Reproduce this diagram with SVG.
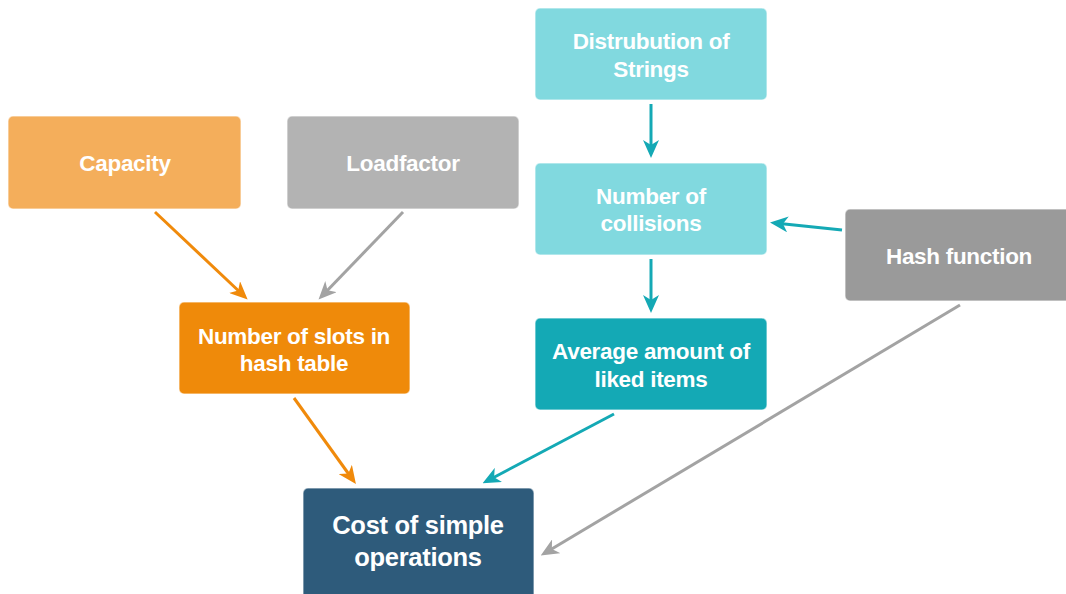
<svg xmlns="http://www.w3.org/2000/svg" width="1066" height="594" viewBox="0 0 1066 594">
  <style>
    .box { stroke: #ffffff; stroke-opacity: 0.5; stroke-width: 1.5; }
    .lbl { font-family: "Liberation Sans", Arial, sans-serif; font-weight: bold; font-size: 22.5px; fill: #ffffff; text-anchor: middle; dominant-baseline: central; letter-spacing: -0.3px; }
    .big { font-size: 25.5px; }
    .edge { fill: none; stroke-width: 3; }
    .orange { stroke: #F08A0B; }
    .gray { stroke: #A3A3A3; }
    .teal { stroke: #14A9B5; }
  </style>
  <defs>
    <marker id="arrOrange" viewBox="0 0 18 16" refX="13" refY="8" markerWidth="18" markerHeight="16" markerUnits="userSpaceOnUse" orient="auto">
      <path d="M0,0 L18,8 L0,16 L5,8 Z" fill="#F08A0B"/>
    </marker>
    <marker id="arrGray" viewBox="0 0 18 16" refX="13" refY="8" markerWidth="18" markerHeight="16" markerUnits="userSpaceOnUse" orient="auto">
      <path d="M0,0 L18,8 L0,16 L5,8 Z" fill="#A3A3A3"/>
    </marker>
    <marker id="arrTeal" viewBox="0 0 18 16" refX="13" refY="8" markerWidth="18" markerHeight="16" markerUnits="userSpaceOnUse" orient="auto">
      <path d="M0,0 L18,8 L0,16 L5,8 Z" fill="#14A9B5"/>
    </marker>
  </defs>

  <rect width="1066" height="594" fill="#ffffff"/>

  <!-- connectors -->
  <g id="connectors">
    <line class="edge orange" x1="155" y1="212" x2="244" y2="296" marker-end="url(#arrOrange)"/>
    <line class="edge gray" x1="403" y1="212" x2="322" y2="296" marker-end="url(#arrGray)"/>
    <line class="edge teal" x1="651" y1="104" x2="651" y2="153" marker-end="url(#arrTeal)"/>
    <line class="edge teal" x1="651" y1="259" x2="651" y2="308" marker-end="url(#arrTeal)"/>
    <line class="edge teal" x1="842" y1="230" x2="775" y2="223" marker-end="url(#arrTeal)"/>
    <line class="edge orange" x1="294" y1="398" x2="353" y2="480" marker-end="url(#arrOrange)"/>
    <line class="edge teal" x1="614" y1="414" x2="487" y2="481" marker-end="url(#arrTeal)"/>
    <line class="edge gray" x1="960" y1="305" x2="545" y2="553" marker-end="url(#arrGray)"/>
  </g>

  <!-- nodes -->
  <g id="capacity">
    <rect class="box" x="8" y="116" width="233" height="93" rx="5" fill="#F4AE5B"/>
    <text class="lbl" x="125" y="163">Capacity</text>
  </g>
  <g id="loadfactor">
    <rect class="box" x="287" y="116" width="232" height="93" rx="5" fill="#B3B3B3"/>
    <text class="lbl" x="403" y="163">Loadfactor</text>
  </g>
  <g id="slots">
    <rect class="box" x="179" y="302" width="231" height="92" rx="5" fill="#EF8A0A"/>
    <text class="lbl" x="294" y="336">Number of slots in</text>
    <text class="lbl" x="294" y="363">hash table</text>
  </g>
  <g id="distribution">
    <rect class="box" x="535" y="8" width="232" height="92" rx="5" fill="#81D9DF"/>
    <text class="lbl" x="651" y="41">Distrubution of</text>
    <text class="lbl" x="651" y="69">Strings</text>
  </g>
  <g id="collisions">
    <rect class="box" x="535" y="163" width="232" height="92" rx="5" fill="#81D9DF"/>
    <text class="lbl" x="651" y="196">Number of</text>
    <text class="lbl" x="651" y="223">collisions</text>
  </g>
  <g id="average">
    <rect class="box" x="535" y="318" width="232" height="92" rx="5" fill="#14A9B5"/>
    <text class="lbl" x="651" y="351">Average amount of</text>
    <text class="lbl" x="651" y="379">liked items</text>
  </g>
  <g id="hash">
    <rect class="box" x="845" y="209" width="228" height="92" rx="5" fill="#9A9A9A"/>
    <text class="lbl" x="959" y="256">Hash function</text>
  </g>
  <g id="cost">
    <rect class="box" x="303" y="488" width="231" height="112" rx="5" fill="#2E5B7B"/>
    <text class="lbl big" x="418" y="525">Cost of simple</text>
    <text class="lbl big" x="418" y="557">operations</text>
  </g>
</svg>
